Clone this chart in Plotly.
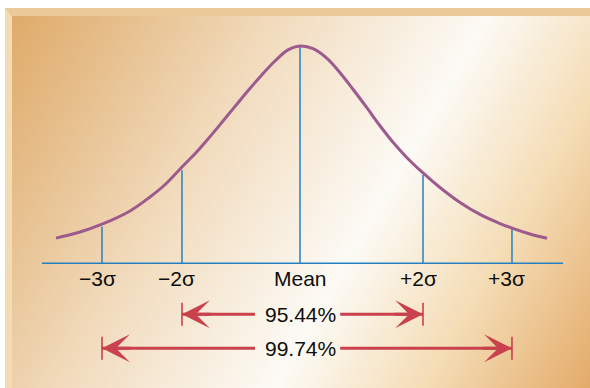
import base64
import struct
import zlib

import numpy as np
import plotly.graph_objects as go

# ---- data -------------------------------------------------------------
# bell curve, x in sigma units, height relative to the peak
curve_x = [-4.067, -3.667, -3.3, -2.833, -2.5, -2.233, -1.967, -1.75, -1.533,
           -1.3, -1.083, -0.867, -0.633, -0.417, -0.2, 0.0, 0.217, 0.45,
           0.667, 0.883, 1.117, 1.333, 1.55, 1.783, 2.05, 2.333, 2.667, 3.0,
           3.333, 3.533, 3.833, 4.117]
curve_y = [0.116, 0.144, 0.180, 0.241, 0.305, 0.366, 0.443, 0.504, 0.572,
           0.649, 0.722, 0.794, 0.868, 0.931, 0.982, 1.0, 0.988, 0.943,
           0.877, 0.801, 0.715, 0.633, 0.557, 0.486, 0.416, 0.349, 0.280,
           0.225, 0.183, 0.162, 0.135, 0.115]

marker_labels = ["\u22123\u03c3", "\u22122\u03c3", "Mean", "+2\u03c3", "+3\u03c3"]
marker_x = [-3.3, -1.967, 0.0, 2.05, 3.533]
marker_h = [0.168, 0.428, 1.0, 0.406, 0.161]

coverage_labels = ["95.44%", "99.74%"]
coverage_lo = [marker_x[1], marker_x[0]]
coverage_hi = [marker_x[3], marker_x[4]]

# ---- styling ----------------------------------------------------------
W, H = 590, 388
PX_PER_X = 60.0          # pixels per sigma unit
PX_PER_Y = 217.3         # pixels per unit of height
X0_PX, Y0_PX = 300.0, 263.3   # where mean / baseline sit on the page

PURPLE = "#9c5a8e"
BLUE = "#2580c2"
RED = "#c8414c"
FONT = "Liberation Sans, Arial, sans-serif"
TEXT = "#0d0d0d"

row_y = [-51.0 / PX_PER_Y, -85.0 / PX_PER_Y]      # arrow rows
tick_half = 11.5 / PX_PER_Y
gap_left, gap_right = -0.75, 0.67                   # room for the percentage text
label_y = -14.7 / PX_PER_Y
baseline_x = [-4.3, 4.383]


# ---- warm gradient backdrop rendered into a PNG -----------------------
def backdrop_png():
    yy, xx = np.mgrid[0:H, 0:W].astype(float)
    t = 0.866 * xx + 0.5 * yy
    stops = [0, 120, 250, 430, 560, 720]
    cols = np.array([(222, 168, 100), (231, 192, 142), (242, 220, 190),
                     (253, 251, 246), (245, 221, 182), (226, 166, 98)], float)
    img = np.zeros((H, W, 3))
    for c in range(3):
        img[..., c] = np.interp(t, stops, cols[:, c])
    # frame: white outside, light bevel strips along the top and left edges
    img[yy < 8] = (255, 255, 255)
    img[xx < 5] = (255, 255, 255)
    top = (yy >= 8) & (yy < 16) & (xx >= 5) & ((yy - 8) <= (xx - 5) * 8 / 7 + 0.5)
    left = (xx >= 5) & (xx < 12) & (yy >= 8) & ~top
    img[top] = (236, 201, 152)
    img[left] = (243, 219, 180)
    img = img.clip(0, 255).astype(np.uint8)

    raw = b"".join(b"\x00" + img[r].tobytes() for r in range(H))

    def chunk(tag, data):
        return (struct.pack(">I", len(data)) + tag + data +
                struct.pack(">I", zlib.crc32(tag + data) & 0xFFFFFFFF))

    png = (b"\x89PNG\r\n\x1a\n" +
           chunk(b"IHDR", struct.pack(">IIBBBBB", W, H, 8, 2, 0, 0, 0)) +
           chunk(b"IDAT", zlib.compress(raw, 9)) +
           chunk(b"IEND", b""))
    return "data:image/png;base64," + base64.b64encode(png).decode()


fig = go.Figure()

# baseline
fig.add_trace(go.Scatter(x=baseline_x, y=[0, 0], mode="lines",
                         line=dict(color=BLUE, width=1.6), hoverinfo="skip"))

# vertical guides from the baseline up to the curve
vx, vy = [], []
for x, h in zip(marker_x, marker_h):
    vx += [x, x, None]
    vy += [0, h, None]
fig.add_trace(go.Scatter(x=vx, y=vy, mode="lines",
                         line=dict(color=BLUE, width=1.5), hoverinfo="skip"))

# the bell curve
fig.add_trace(go.Scatter(x=curve_x, y=curve_y, mode="lines",
                         line=dict(color=PURPLE, width=3, shape="spline", smoothing=1.0),
                         hoverinfo="skip"))

# coverage ranges: end ticks and shafts with a gap for the text
tx, ty, sx, sy = [], [], [], []
for lo, hi, ry in zip(coverage_lo, coverage_hi, row_y):
    for x in (lo, hi):
        tx += [x, x, None]
        ty += [ry - tick_half, ry + tick_half, None]
    sx += [lo, gap_left, None, gap_right, hi, None]
    sy += [ry, ry, None, ry, ry, None]
fig.add_trace(go.Scatter(x=tx, y=ty, mode="lines",
                         line=dict(color=RED, width=1.6), hoverinfo="skip"))
fig.add_trace(go.Scatter(x=sx, y=sy, mode="lines",
                         line=dict(color=RED, width=3), hoverinfo="skip"))

annotations = []
# arrowheads pointing at the end ticks
for lo, hi, ry in zip(coverage_lo, coverage_hi, row_y):
    for head, tail in ((lo, lo + 0.5), (hi, hi - 0.5)):
        annotations.append(dict(x=head, y=ry, ax=tail, ay=ry, xref="x", yref="y",
                                axref="x", ayref="y", text="", showarrow=True,
                                arrowhead=3, arrowsize=1.55, arrowwidth=3,
                                arrowcolor=RED, standoff=0, startstandoff=0,
                                font=dict(size=1)))
# percentage texts
for lab, ry in zip(coverage_labels, row_y):
    annotations.append(dict(x=0, y=ry, xref="x", yref="y", text=lab, showarrow=False,
                            xanchor="center", yanchor="middle",
                            font=dict(family=FONT, size=21, color=TEXT)))
# axis labels under the guides
for lab, x in zip(marker_labels, marker_x):
    annotations.append(dict(x=x, y=label_y, xref="x", yref="y", text=lab,
                            showarrow=False, xanchor="center", yanchor="middle",
                            xshift=0 if lab == "Mean" else -5,
                            font=dict(family=FONT, size=21, color=TEXT)))

fig.update_layout(
    width=W, height=H,
    margin=dict(l=0, r=0, t=0, b=0, pad=0),
    paper_bgcolor="white", plot_bgcolor="rgba(0,0,0,0)",
    showlegend=False,
    xaxis=dict(range=[-X0_PX / PX_PER_X, (W - X0_PX) / PX_PER_X], visible=False,
               fixedrange=True),
    yaxis=dict(range=[(Y0_PX - H) / PX_PER_Y, Y0_PX / PX_PER_Y], visible=False,
               fixedrange=True),
    images=[dict(source=backdrop_png(), xref="paper", yref="paper", x=0, y=1,
                 sizex=1, sizey=1, sizing="stretch", xanchor="left", yanchor="top",
                 layer="below")],
    annotations=annotations,
)

fig.write_html("out.html", config={"displayModeBar": False})
